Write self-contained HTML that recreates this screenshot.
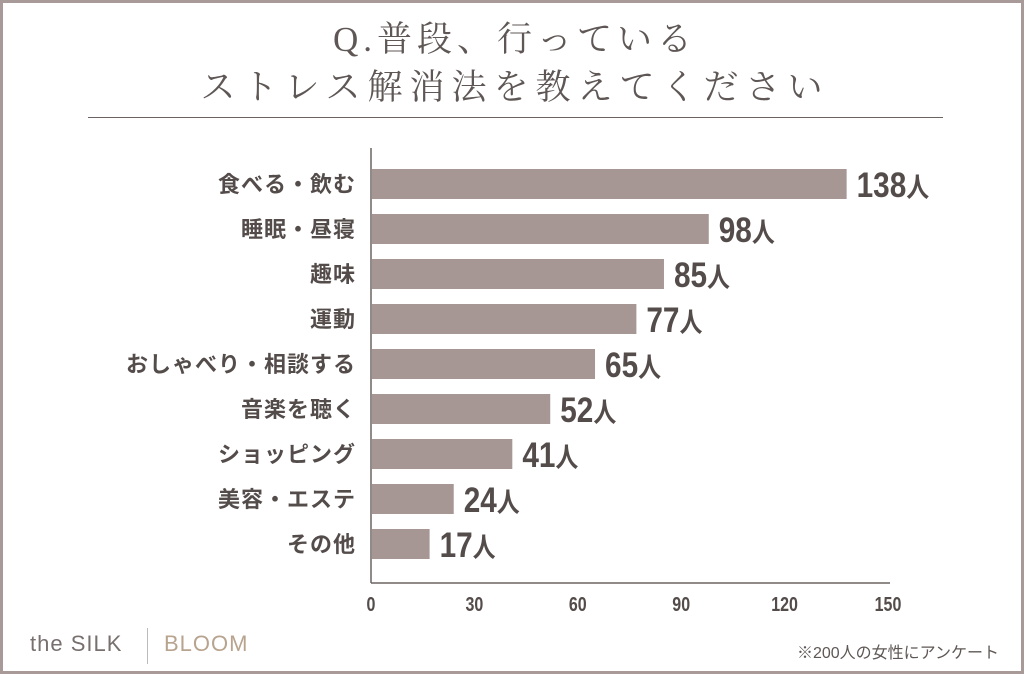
<!DOCTYPE html>
<html><head><meta charset="utf-8"><style>
body{margin:0;background:#fff}
#c{position:relative;width:1024px;height:674px;overflow:hidden;background:#fff;box-sizing:border-box;border:3px solid #a89a98}
.t{position:absolute;left:0;width:1024px;text-align:center;font-family:"Liberation Serif","Noto Serif CJK SC",serif;color:#5e5755;font-size:35px;letter-spacing:5px;line-height:1}
</style></head><body>
<div id="c">
<div class="t" style="top:19px">Q.普段、行っている</div>
<div class="t" style="top:67px;letter-spacing:7px">ストレス解消法を教えてください</div>
<div style="position:absolute;left:85px;top:114px;width:855px;height:1px;background:#6b6361"></div>
<svg id="s" width="1024" height="674" style="position:absolute;left:-3px;top:-3px"></svg>
<div style="position:absolute;left:27px;top:628px;font-family:'Liberation Sans',sans-serif;font-size:22px;color:#77706e;letter-spacing:1px">the SILK</div>
<div style="position:absolute;left:144px;top:625px;width:1px;height:36px;background:#bbb"></div>
<div style="position:absolute;left:161px;top:628px;font-family:'Liberation Sans',sans-serif;font-size:22px;color:#b8a48e;letter-spacing:1px">BLOOM</div>
<div style="position:absolute;right:22px;top:636px;font-family:'Liberation Sans','Noto Sans CJK JP',sans-serif;font-size:16px;color:#5e5755">※200人の女性にアンケート</div>
</div>
<script>
const categories=["食べる・飲む","睡眠・昼寝","趣味","運動","おしゃべり・相談する","音楽を聴く","ショッピング","美容・エステ","その他"];
const values=[138,98,85,77,65,52,41,24,17];
const ticks=[0,30,60,90,120,150];
const svg=document.getElementById('s');const NS='http://www.w3.org/2000/svg';
const x0=371,x1=888,yTop=148,yBot=583,firstY=184,step=45,bh=30;
const x=v=>x0+(x1-x0)*v/150;
const y=i=>firstY+i*step;
function mk(t,a){const e=document.createElementNS(NS,t);for(const k in a)e.setAttribute(k,a[k]);svg.appendChild(e);return e;}
const font='"Liberation Sans","Noto Sans CJK JP",sans-serif';
categories.forEach((c,i)=>{
 const r=mk('rect',{x:x0+1,y:y(i)-bh/2,width:x(values[i])-x0-1,height:bh,fill:'#a69694'});
 
 
 const l=mk('text',{x:356,y:y(i)+8,'text-anchor':'end','font-family':font,'font-size':22,'font-weight':'bold',fill:'#534c4a','letter-spacing':1});
 l.textContent=c;
 
 
 const v=mk('text',{x:0,y:0,transform:'translate('+(x(values[i])+10)+','+(y(i)+13)+') scale(0.85,1)','font-family':font,'font-weight':'bold',fill:'#534c4a'});
 v.innerHTML='<tspan font-size="35">'+values[i]+'</tspan><tspan font-size="27">人</tspan>';
 
 
});
const ya=mk('line',{x1:x0,y1:yTop,x2:x0,y2:yBot,stroke:'#6b6361','stroke-width':1.5});


const xa=mk('line',{x1:x0,y1:yBot,x2:890,y2:yBot,stroke:'#6b6361','stroke-width':1.5});


ticks.forEach(t=>{
 const e=mk('text',{x:0,y:0,transform:'translate('+x(t)+',611) scale(0.8,1)','text-anchor':'middle','font-family':font,'font-size':20,'font-weight':'bold',fill:'#534c4a'});
 e.textContent=t;
 
 
});
</script>
</body></html>
